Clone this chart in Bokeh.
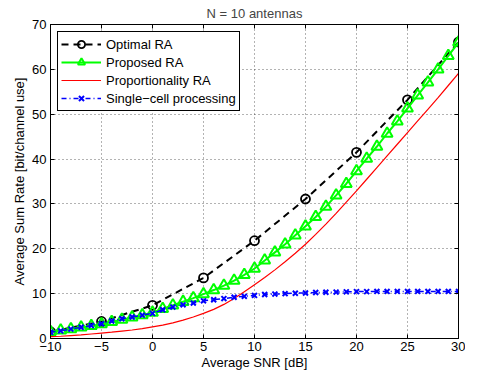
from bokeh.plotting import figure
from bokeh.models import Range1d, FixedTicker, LinearAxis, CustomJSTickFormatter
from bokeh.embed import file_html
from bokeh.resources import INLINE

# ---- data ----
snr_db = [-10, -9, -8, -7, -6, -5, -4, -3, -2, -1, 0, 1, 2, 3, 4, 5, 6, 7, 8, 9, 10,
          11, 12, 13, 14, 15, 16, 17, 18, 19, 20, 21, 22, 23, 24, 25, 26, 27, 28, 29, 30]
snr_opt = [-10, -5, 0, 5, 10, 15, 20, 25, 30]
optimal_ra = [1.5, 3.8, 7.4, 13.5, 21.8, 31.1, 41.5, 53.2, 66.1]
proposed_ra = [1.5, 1.8, 2.1, 2.5, 2.8, 3.2, 3.7, 4.2, 4.7, 5.2, 5.8, 6.6, 7.4, 8.2, 9.0,
               9.9, 10.8, 11.8, 12.9, 14.2, 15.6, 17.4, 19.2, 21.0, 23.0, 25.0, 27.1,
               29.4, 31.9, 34.5, 37.3, 40.1, 42.8, 45.7, 48.4, 51.3, 54.2, 57.1, 60.0,
               63.0, 66.0]
proportional_ra = [0.4, 0.5, 0.65, 0.8, 1.0, 1.2, 1.4, 1.65, 1.9, 2.2, 2.6, 3.0, 3.5, 4.1,
                   4.8, 5.6, 6.5, 7.6, 8.9, 10.4, 12.0, 13.6, 15.3, 17.1, 19.0, 21.0,
                   23.2, 25.5, 27.9, 30.4, 32.9, 35.5, 38.1, 40.7, 43.3, 45.9, 48.5,
                   51.1, 53.7, 56.4, 59.1]
single_cell = [1.4, 1.7, 2.1, 2.5, 2.9, 3.3, 3.9, 4.4, 4.8, 5.2, 5.6, 6.4, 7.0, 7.5, 7.9,
               8.4, 8.65, 8.9, 9.2, 9.4, 9.6, 9.8, 9.9, 10.0, 10.1, 10.15, 10.25, 10.3,
               10.35, 10.4, 10.45, 10.45, 10.5, 10.5, 10.5, 10.5, 10.5, 10.5, 10.5,
               10.5, 10.5]

x_ticks = [-10, -5, 0, 5, 10, 15, 20, 25, 30]
x_tick_labels = ["\u221210", "\u22125", "0", "5", "10", "15", "20", "25", "30"]
y_ticks = [0, 10, 20, 30, 40, 50, 60, 70]

title_text = "N = 10 antennas"
x_label = "Average SNR [dB]"
y_label = "Average Sum Rate [bit/channel use]"
names = ["Optimal RA", "Proposed RA", "Proportionality RA", "Single\u2212cell processing"]

FONT = "Liberation Sans"
FS = "13px"

p = figure(width=465, height=373, output_backend="svg", toolbar_location=None,
           x_range=Range1d(-10, 30), y_range=Range1d(0, 70),
           min_border_left=50, min_border_right=7, min_border_top=24,
           min_border_bottom=35, background_fill_color="white",
           border_fill_color="white")

p.title.text = title_text
p.title.align = "center"
p.title.text_font = FONT
p.title.text_font_size = FS
p.title.text_font_style = "normal"
p.title.standoff = 7

for ax in (p.xaxis[0], p.yaxis[0]):
    ax.major_tick_in = 4
    ax.major_tick_out = 0
    ax.minor_tick_line_color = None
    ax.axis_line_color = "black"
    ax.major_tick_line_color = "black"
    ax.major_label_text_font = FONT
    ax.major_label_text_font_size = FS
    ax.major_label_text_color = "black"
    ax.axis_label_text_font = FONT
    ax.axis_label_text_font_size = FS
    ax.axis_label_text_font_style = "normal"
    ax.axis_label_text_color = "black"

p.xaxis[0].ticker = FixedTicker(ticks=x_ticks)
p.yaxis[0].ticker = FixedTicker(ticks=y_ticks)
p.xaxis[0].major_label_overrides = {t: l for t, l in zip(x_ticks, x_tick_labels)}
p.xaxis[0].axis_label = x_label
p.yaxis[0].axis_label = y_label
p.xaxis[0].major_label_standoff = 3
p.xaxis[0].axis_label_standoff = 1
p.yaxis[0].major_label_standoff = 4
p.yaxis[0].axis_label_standoff = 2

blank = CustomJSTickFormatter(code="return '';")
top = LinearAxis(ticker=FixedTicker(ticks=x_ticks), major_tick_in=4, major_tick_out=0,
                 minor_tick_line_color=None, formatter=blank,
                 major_label_standoff=0, axis_line_color="black")
right = LinearAxis(ticker=FixedTicker(ticks=y_ticks), major_tick_in=4, major_tick_out=0,
                   minor_tick_line_color=None, formatter=blank,
                   major_label_standoff=0, axis_line_color="black")
p.add_layout(top, "above")
p.add_layout(right, "right")

p.outline_line_color = "black"
for g in (p.xgrid[0], p.ygrid[0]):
    g.grid_line_color = "black"
    g.grid_line_alpha = 0.6
    g.grid_line_dash = "1 3"
    g.grid_line_width = 1

# Optimal RA
p.line(snr_opt, optimal_ra, line_color="black", line_width=2, line_dash="7 5",
       legend_label=names[0])
p.scatter(snr_opt, optimal_ra, marker="circle", size=9, fill_color=None,
          line_color="black", line_width=1.8, legend_label=names[0])
# Proposed RA
p.line(snr_db, proposed_ra, line_color="#00ff00", line_width=2, legend_label=names[1])
p.scatter(snr_db, proposed_ra, marker="triangle", size=11, fill_color=None,
          line_color="#00ff00", line_width=2, legend_label=names[1])
# Proportionality RA
p.line(snr_db, proportional_ra, line_color="#ff0000", line_width=1.2,
       legend_label=names[2])
# Single-cell processing
p.line(snr_db, single_cell, line_color="#0000ff", line_width=1.5, line_dash="5 3 1 3",
       legend_label=names[3])
p.scatter(snr_db, single_cell, marker="x", size=7, line_color="#0000ff",
          line_width=2, legend_label=names[3])

lg = p.legend[0]
lg.location = "top_left"
lg.margin = 7
lg.padding = 3
lg.spacing = 0
lg.glyph_width = 40
lg.glyph_height = 18
lg.label_height = 18
lg.label_standoff = 5
lg.border_line_color = "black"
lg.border_line_width = 1
lg.border_line_alpha = 1
lg.background_fill_color = "white"
lg.background_fill_alpha = 1
lg.label_text_font = FONT
lg.label_text_font_size = FS
lg.label_text_color = "black"

open("out.html", "w").write(file_html(p, INLINE))
